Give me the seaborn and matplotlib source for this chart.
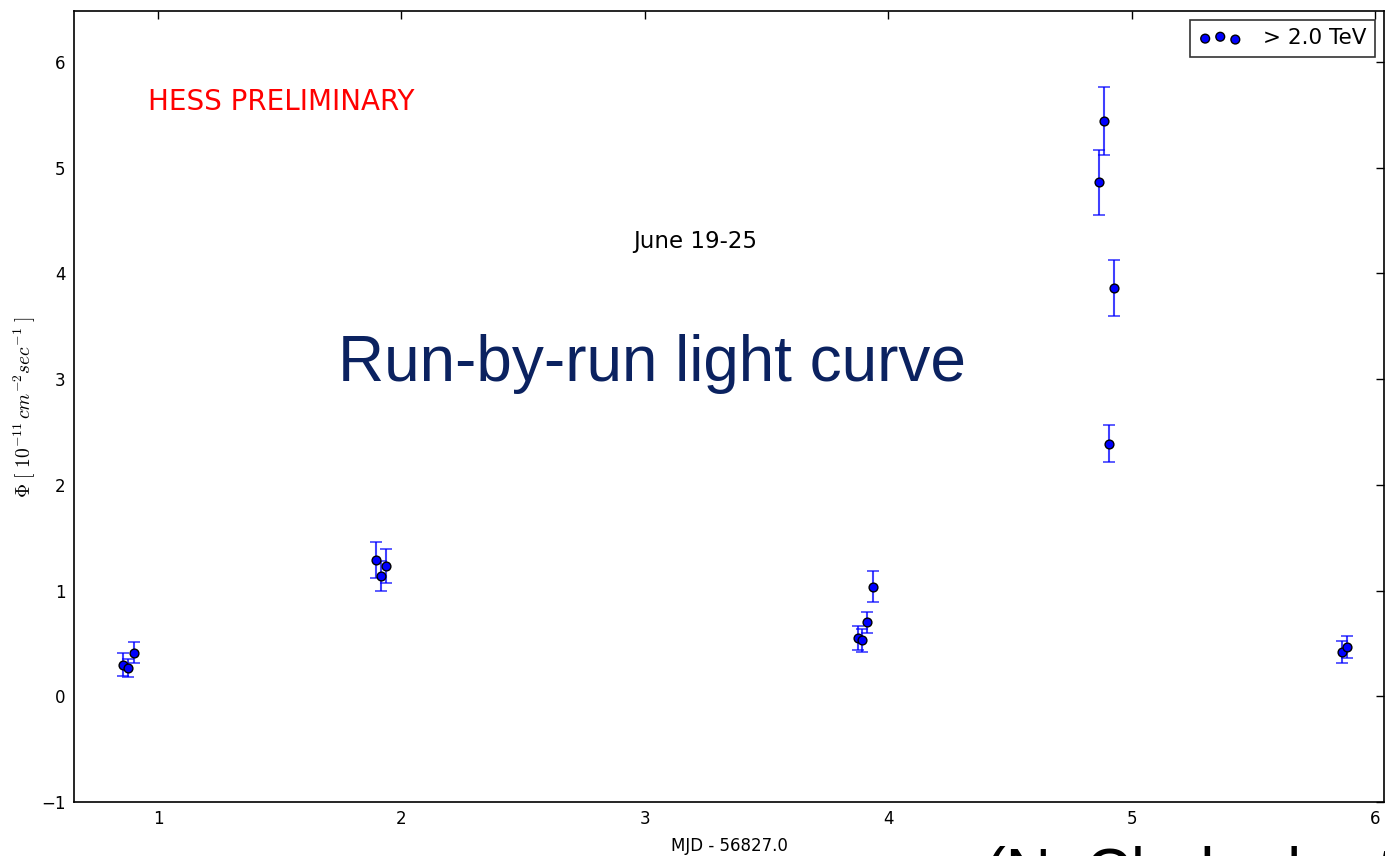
import numpy as np
import pandas as pd
import matplotlib
matplotlib.use("Agg")
import matplotlib.pyplot as plt
from matplotlib.collections import PathCollection
import seaborn as sns

# Data (MJD - 56827.0, flux > 2 TeV in 1e-11 cm^-2 s^-1)
mjd = [0.856, 0.877, 0.900,
       1.895, 1.915, 1.937,
       3.876, 3.892, 3.915, 3.937,
       4.866, 4.887, 4.907, 4.928,
       5.865, 5.886]
flux = [0.30, 0.265, 0.41,
        1.29, 1.14, 1.235,
        0.55, 0.53, 0.70, 1.035,
        4.86, 5.44, 2.39, 3.86,
        0.42, 0.465]
flux_err = [0.11, 0.085, 0.10,
            0.17, 0.14, 0.16,
            0.11, 0.11, 0.10, 0.145,
            0.31, 0.32, 0.175, 0.265,
            0.105, 0.105]
series_label = "> 2.0 TeV"

df = pd.DataFrame({"mjd": mjd, "flux": flux, "err": flux_err})

sns.set_theme(style="white")
plt.rcParams["font.family"] = ["DejaVu Sans"]
plt.rcParams["mathtext.fontset"] = "cm"

fig = plt.figure(figsize=(13.85, 8.56), dpi=100)
ax = fig.add_axes([0.0534, 0.0631, 0.9459, 0.924])

ax.errorbar(df["mjd"], df["flux"], yerr=df["err"], fmt="none",
            ecolor="blue", elinewidth=1.5, capsize=4, capthick=1.2, alpha=0.75, zorder=2)
sns.scatterplot(data=df, x="mjd", y="flux", color="blue",
                edgecolor="black", linewidth=1.0, s=40, ax=ax, zorder=3, legend=False)

pts = [c for c in ax.collections if isinstance(c, PathCollection)][0]

ax.set_xlim(0.655, 6.037)
ax.set_ylim(-1, 6.48)
ax.set_xticks([1, 2, 3, 4, 5, 6])
ax.set_yticks([-1, 0, 1, 2, 3, 4, 5, 6])
ax.set_xticklabels(["1", "2", "3", "4", "5", "6"])
ax.set_yticklabels(["\u22121", "0", "1", "2", "3", "4", "5", "6"])
ax.tick_params(direction="in", length=6, width=1, top=True, right=True,
               labelsize=12, colors="black", pad=6)
for sp in ax.spines.values():
    sp.set_color("black")
    sp.set_linewidth(1.2)

ax.set_xlabel("MJD - 56827.0", fontsize=12, labelpad=6, color="black")
ax.set_ylabel(r"$\Phi\ [\ 10^{-11}\, cm^{-2} sec^{-1}\ ]$", fontsize=14, labelpad=2, color="black")

leg = ax.legend(handles=[pts], labels=[series_label], loc="upper right", scatterpoints=3,
                fontsize=15.5, frameon=True, fancybox=False, edgecolor="black",
                borderaxespad=0.4, handletextpad=1.0, borderpad=0.4, labelcolor="black")
leg.get_frame().set_linewidth(1.2)

ax.text(0.959, 5.62, "HESS PRELIMINARY", color="red", fontsize=20, va="center", ha="left")
ax.text(3.207, 4.30, "June 19-25", color="black", fontsize=16.5, va="center", ha="center")
ax.text(3.03, 2.98, "Run-by-run light curve", color="#0b2260", fontsize=46,
        va="baseline", ha="center", family=["Liberation Sans"])
fig.text(985 / 1385, -0.057, "(N. Chakraborty et al.)", color="black", fontsize=45,
         va="bottom", ha="left", family=["Liberation Sans"])

fig.savefig("out.png", dpi=100)
